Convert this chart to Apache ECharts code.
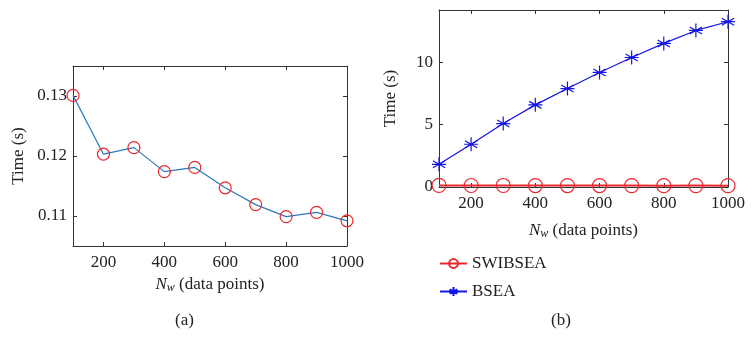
<!DOCTYPE html>
<html>
<head>
<meta charset="utf-8">
<script src="https://cdn.jsdelivr.net/npm/echarts@6/dist/echarts.min.js"></script>
<style>
  html, body { margin: 0; padding: 0; background: #fff; }
  #chart { width: 753px; height: 354px; }
</style>
</head>
<body>
<div id="chart"></div>
<script>
// window sizes (data points)
const nw = [100, 200, 300, 400, 500, 600, 700, 800, 900, 1000];
// time (s)
const swibseaTime = [0.1301, 0.1203, 0.1214, 0.1174, 0.1181, 0.1147, 0.1119, 0.1099, 0.1106, 0.1092];
const bseaTime = [1.82, 3.43, 5.09, 6.59, 7.90, 9.19, 10.39, 11.52, 12.56, 13.26];

const xTicks = [200, 400, 600, 800, 1000];
const yTicksA = [0.11, 0.12, 0.13];
const yTicksB = [0, 5, 10];

const FONT = 'Liberation Serif';
const FS = 17;
const INK = '#222';
const asterisk = 'path://M0,-7L0,7M-6.1,-3.5L6.1,3.5M-6.1,3.5L6.1,-3.5M-7,0L7,0';

const chartView = echarts.init(document.getElementById('chart'));

function pairs(ys) {
  return nw.map((x, i) => [x, ys[i]]);
}

function xAxisOf(gridIndex, nameGap, main) {
  return {
    gridIndex,
    type: 'value',
    min: 100,
    max: 1000,
    position: main ? 'bottom' : 'top',
    name: main ? '{n|N}{w|w} (data points)' : '',
    nameLocation: 'middle',
    nameGap,
    nameTextStyle: {
      fontFamily: FONT,
      fontSize: FS,
      color: INK,
      rich: {
        n: { fontFamily: FONT, fontSize: FS, fontStyle: 'italic', color: INK },
        w: { fontFamily: FONT, fontSize: 12, fontStyle: 'italic', color: INK, verticalAlign: 'bottom', padding: [6, 0, 0, 0] },
      },
    },
    axisLine: { show: true, onZero: false, lineStyle: { color: '#333', width: 1 } },
    axisTick: { show: true, inside: true, length: 4, customValues: xTicks, lineStyle: { color: '#333' } },
    axisLabel: {
      show: main,
      customValues: xTicks,
      margin: 8,
      fontFamily: FONT,
      fontSize: FS,
      color: INK,
      formatter: (v) => String(v),
    },
    splitLine: { show: false },
  };
}

function yAxisOf(gridIndex, min, max, ticks, nameGap, main, fmt) {
  return {
    gridIndex,
    type: 'value',
    min,
    max,
    position: main ? 'left' : 'right',
    name: main ? 'Time (s)' : '',
    nameLocation: 'middle',
    nameGap,
    nameTextStyle: { fontFamily: FONT, fontSize: FS, color: INK },
    axisLine: { show: true, onZero: false, lineStyle: { color: '#333', width: 1 } },
    axisTick: { show: true, inside: true, length: 4, customValues: ticks, lineStyle: { color: '#333' } },
    axisLabel: {
      show: main,
      customValues: ticks,
      margin: 6,
      fontFamily: FONT,
      fontSize: FS,
      color: INK,
      formatter: fmt,
    },
    splitLine: { show: false },
  };
}

const option = {
  animation: false,
  backgroundColor: '#fff',
  grid: [
    { left: 73, right: 406, top: 66, bottom: 108 },
    { left: 439, right: 25, top: 10, bottom: 167 },
  ],
  xAxis: [
    xAxisOf(0, 30, true),
    xAxisOf(0, 0, false),
    xAxisOf(1, 35, true),
    xAxisOf(1, 0, false),
  ],
  yAxis: [
    yAxisOf(0, 0.105, 0.135, yTicksA, 46, true, (v) => v.toFixed(2)),
    yAxisOf(0, 0.105, 0.135, yTicksA, 0, false),
    yAxisOf(1, 0, 14.2, yTicksB, 40, true, (v) => String(v)),
    yAxisOf(1, 0, 14.2, yTicksB, 0, false),
  ],
  legend: {
    orient: 'vertical',
    left: 439,
    top: 255,
    padding: 0,
    itemWidth: 27,
    itemHeight: 11,
    itemGap: 11,
    textStyle: { fontFamily: FONT, fontSize: FS, color: INK },
    data: ['SWIBSEA', 'BSEA'],
  },
  graphic: [
    { type: 'text', left: 175, top: 312, style: { text: '(a)', font: '17px "Liberation Serif"', fill: INK } },
    { type: 'text', left: 551, top: 312, style: { text: '(b)', font: '17px "Liberation Serif"', fill: INK } },
  ],
  series: [
    {
      name: 'a',
      type: 'line',
      xAxisIndex: 0,
      yAxisIndex: 0,
      data: pairs(swibseaTime),
      symbol: 'circle',
      symbolSize: 12,
      lineStyle: { color: '#2a7ab8', width: 1.2 },
      itemStyle: { color: 'rgba(0,0,0,0)', borderColor: '#e8282d', borderWidth: 1.2 },
      z: 3,
    },
    {
      name: 'SWIBSEA',
      type: 'line',
      xAxisIndex: 2,
      yAxisIndex: 2,
      data: pairs(swibseaTime),
      symbol: 'circle',
      symbolSize: 14,
      color: '#e8282d',
      lineStyle: { color: '#e8282d', width: 2 },
      itemStyle: { color: 'rgba(0,0,0,0)', borderColor: '#e8282d', borderWidth: 1.2 },
      z: 3,
    },
    {
      name: 'BSEA',
      type: 'line',
      xAxisIndex: 2,
      yAxisIndex: 2,
      data: pairs(bseaTime),
      symbol: asterisk,
      symbolSize: 14,
      color: '#1414e6',
      lineStyle: { color: '#1414e6', width: 1.2 },
      itemStyle: { color: '#1414e6', borderColor: '#1414e6', borderWidth: 1.2 },
      z: 3,
    },
  ],
};

chartView.setOption(option, true);
</script>
</body>
</html>
